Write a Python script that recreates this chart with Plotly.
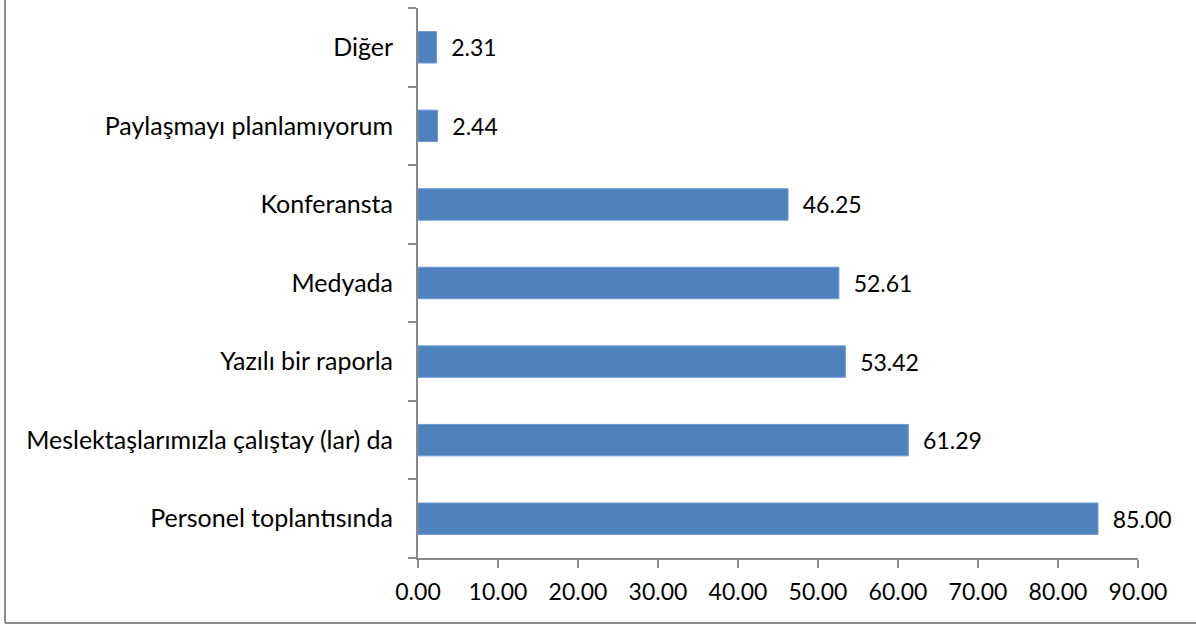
import plotly.graph_objects as go

categories = [
    "Personel toplantısında",
    "Meslektaşlarımızla çalıştay (lar) da",
    "Yazılı bir raporla",
    "Medyada",
    "Konferansta",
    "Paylaşmayı planlamıyorum",
    "Diğer",
]
values = [85.00, 61.29, 53.42, 52.61, 46.25, 2.44, 2.31]
x_ticks = [0, 10, 20, 30, 40, 50, 60, 70, 80, 90]
x_tick_labels = [f"{v:.2f}" for v in x_ticks]

W, H = 1196, 625
L, R, T, B = 418, 58, 8, 67
FONT = "Lato"
AXIS_COLOR = "#888888"

fig = go.Figure()
fig.add_trace(go.Bar(
    y=categories,
    x=values,
    orientation="h",
    marker=dict(color="#4F81BD", line=dict(color="#6C9AD3", width=1)),
    texttemplate="  %{x:.2f}",
    textposition="outside",
    textfont=dict(family=FONT, size=23, color="#000000"),
    cliponaxis=False,
    hoverinfo="skip",
))

pw = W - L - R
ph = H - T - B
fig.update_layout(
    width=W, height=H,
    margin=dict(l=L, r=R, t=T, b=B, pad=0, autoexpand=False),
    paper_bgcolor="white",
    plot_bgcolor="white",
    bargap=0.6,
    showlegend=False,
    font=dict(family=FONT, size=23, color="#000000"),
    xaxis=dict(
        range=[0, 90],
        tickvals=x_ticks,
        ticktext=x_tick_labels,
        showgrid=False,
        zeroline=False,
        showline=True,
        linecolor=AXIS_COLOR,
        linewidth=2,
        ticks="outside",
        ticklen=8,
        tickwidth=2,
        tickcolor=AXIS_COLOR,
        ticklabelstandoff=4,
        tickfont=dict(family=FONT, size=23, color="#000000"),
        fixedrange=True,
    ),
    yaxis=dict(
        type="category",
        categoryorder="array",
        categoryarray=categories,
        showgrid=False,
        zeroline=False,
        showline=True,
        linecolor=AXIS_COLOR,
        linewidth=2,
        ticks="outside",
        tickson="boundaries",
        ticklen=8,
        tickwidth=2,
        tickcolor=AXIS_COLOR,
        ticklabelstandoff=18,
        tickfont=dict(family=FONT, size=25, color="#000000"),
        fixedrange=True,
    ),
    shapes=[
        dict(type="line", xref="paper", yref="paper",
             x0=(5 - L) / pw, x1=(5 - L) / pw,
             y0=(H - 623 - B) / ph, y1=(H - 0 - B) / ph,
             line=dict(color="#8c8c8c", width=2)),
        dict(type="line", xref="paper", yref="paper",
             x0=(5 - L) / pw, x1=(W - L) / pw,
             y0=(H - 623 - B) / ph, y1=(H - 623 - B) / ph,
             line=dict(color="#8c8c8c", width=2)),
    ],
)

fig.write_html(
    "out.html",
    config={"displayModeBar": False},
    post_script="document.body.style.margin='0';document.body.style.overflow='hidden';",
)
